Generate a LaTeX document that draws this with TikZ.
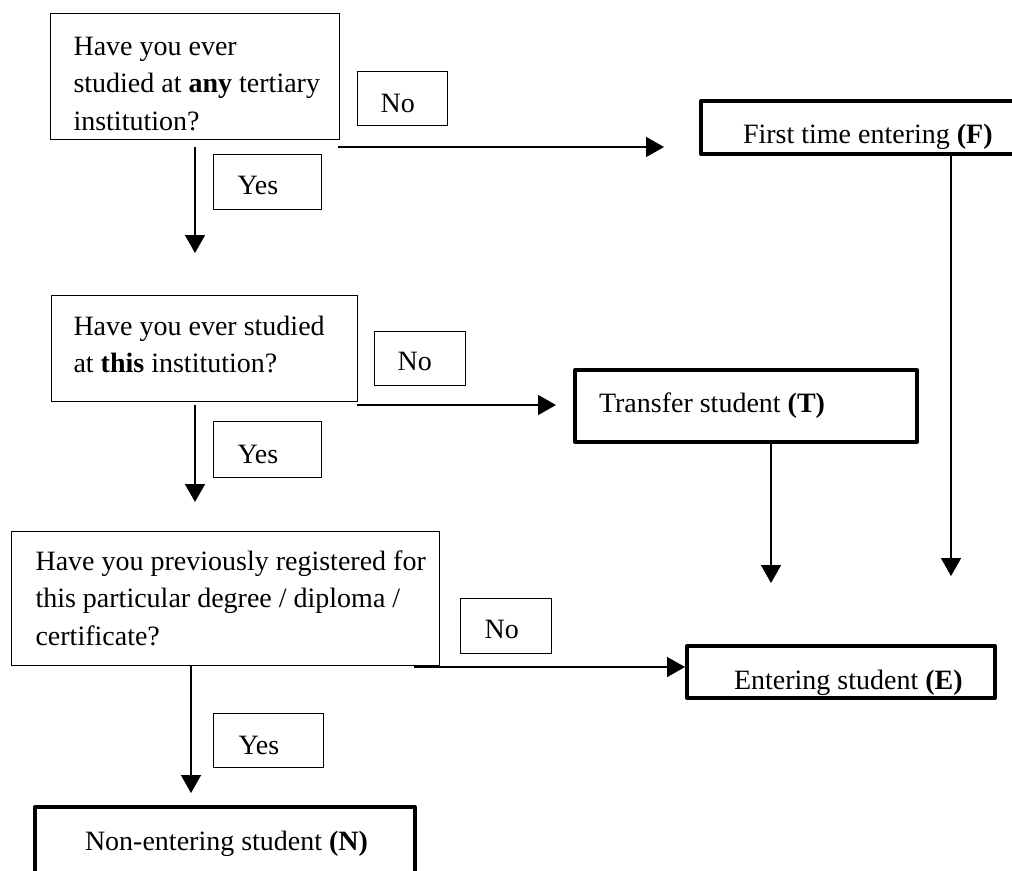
\documentclass[tikz,border=0pt]{standalone}
\usepackage{fontspec}
\setmainfont{Liberation Serif}
\usetikzlibrary{arrows.meta}
\newdimen\PX \PX=0.75pt
\newcommand\boxtext[5]{\parbox[c][#2\PX][t]{#1\PX}{\raggedright\leftskip=#3\PX\relax\rule{0pt}{#4\PX}#5}}
\tikzset{
  thinbox/.style={draw, line width=0.8pt, inner sep=0pt, anchor=north west},
  thickbox/.style={draw, line width=3pt, line join=round, inner sep=0pt, anchor=north west},
  arr/.style={line width=1.2pt, -{Triangle[length=13.5pt,width=15pt]}},
  plain/.style={line width=1.2pt}
}
\begin{document}
\begin{tikzpicture}[x=0.75pt, y=-0.75pt, font=\fontsize{21}{28}\selectfont]
\useasboundingbox (0,0) rectangle (1012,870);
\clip (0,0) rectangle (1012,870);
% question boxes
\node[thinbox] (q1) at (50,13) {\boxtext{289}{126}{23}{42}{Have you ever\\studied at \textbf{any} tertiary\\institution?}};
\node[thinbox] (q2) at (51,295) {\boxtext{306}{106}{22}{40}{Have you ever studied\\at \textbf{this} institution?}};
\node[thinbox] (q3) at (11,531) {\boxtext{428}{134}{24}{39}{Have you previously registered for\\this particular degree / diploma /\\certificate?}};
% answer labels
\node[thinbox] (no1) at (357,71) {\boxtext{90}{54}{23}{41}{No}};
\node[thinbox] (yes1) at (213,154) {\boxtext{108}{55}{24}{40}{Yes}};
\node[thinbox] (no2) at (374,331) {\boxtext{91}{54}{23}{39}{No}};
\node[thinbox] (yes2) at (213,421) {\boxtext{108}{56}{24}{42}{Yes}};
\node[thinbox] (no3) at (460,598) {\boxtext{91}{55}{24}{40}{No}};
\node[thinbox] (yes3) at (213,713) {\boxtext{110}{54}{25}{41}{Yes}};
% outcome boxes
\node[thickbox] (f) at (699,99) {\boxtext{341}{53}{42}{42}{First time entering \textbf{(F)}}};
\node[thickbox] (t) at (573,368) {\boxtext{342}{72}{24}{42}{Transfer student \textbf{(T)}}};
\node[thickbox] (e) at (685,644) {\boxtext{308}{52}{47}{43}{Entering student \textbf{(E)}}};
\node[thickbox] (n) at (33,805) {\boxtext{380}{105}{50}{43}{Non-entering student \textbf{(N)}}};
% connector ends
\coordinate (n1a) at (338,147);
\coordinate (n1b) at (664,147);
\coordinate (y1a) at (195,147);
\coordinate (y1b) at (195,253);
\coordinate (fd) at (951,576);
\coordinate (n2a) at (357,405);
\coordinate (n2b) at (556,405);
\coordinate (y2a) at (195,405);
\coordinate (y2b) at (195,502);
\coordinate (td) at (771,583);
\coordinate (n3a) at (414,667);
\coordinate (y3b) at (191,793);
% connectors
\draw[arr] (n1a) -- (n1b);
\draw[arr] (y1a) -- (y1b);
\draw[arr] (f.south -| fd) -- (fd);
\draw[arr] (n2a) -- (n2b);
\draw[arr] (y2a) -- (y2b);
\draw[arr] (t.south -| td) -- (td);
\draw[arr] (n3a) -- (e.west |- n3a);
\draw[arr] (q3.south -| y3b) -- (y3b);
\end{tikzpicture}
\end{document}
